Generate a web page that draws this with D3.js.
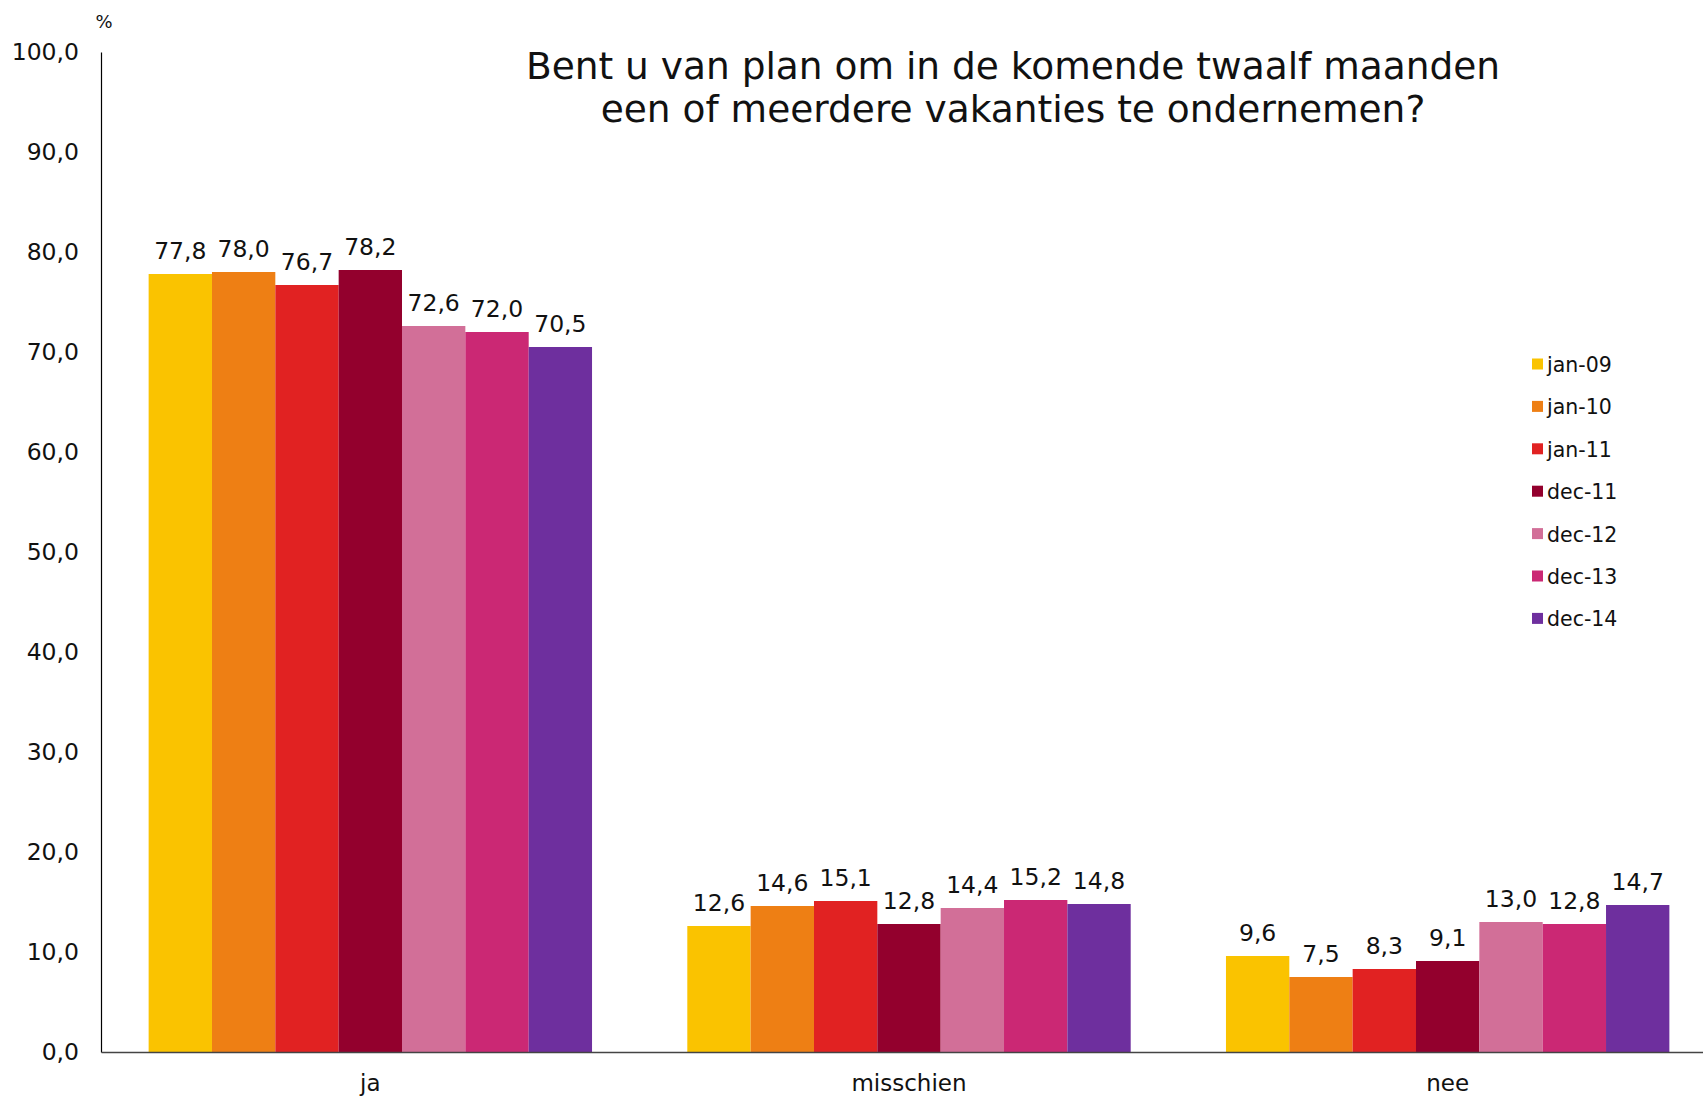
<!DOCTYPE html>
<html>
<head>
<meta charset="utf-8">
<script src="https://cdn.jsdelivr.net/npm/d3@7"></script>
<style>
  body { margin: 0; background: #fff; }
  svg { display: block; font-family: "DejaVu Sans", Verdana, sans-serif; }
</style>
</head>
<body>
<svg width="1703" height="1098"></svg>
<script>
// answers on the x axis
var categories = ['ja', 'misschien', 'nee'];

// survey moments (legend)
var series = ['jan-09', 'jan-10', 'jan-11', 'dec-11', 'dec-12', 'dec-13', 'dec-14'];

// percentages per survey moment, in order of categories
var jan09 = [77.8, 12.6, 9.6];
var jan10 = [78.0, 14.6, 7.5];
var jan11 = [76.7, 15.1, 8.3];
var dec11 = [78.2, 12.8, 9.1];
var dec12 = [72.6, 14.4, 13.0];
var dec13 = [72.0, 15.2, 12.8];
var dec14 = [70.5, 14.8, 14.7];

var yTicks = [0, 10, 20, 30, 40, 50, 60, 70, 80, 90, 100];

var colors = ['#fac300', '#ee7f14', '#e12222', '#93002d', '#d26f98', '#cb2874', '#6e2f9e'];

var values = [jan09, jan10, jan11, dec11, dec12, dec13, dec14];

var data = [];
categories.forEach(function(c, ci) {
  series.forEach(function(s, si) {
    data.push({ cat: c, serie: s, value: values[si][ci] });
  });
});

var svg = d3.select('svg');

var nl = d3.formatLocale({ decimal: ',', thousands: '.', grouping: [3], currency: ['€', ''] });
var fmt = nl.format('.1f');

var x0 = d3.scaleBand()
  .domain(categories)
  .range([101, 1717]);

var x1 = d3.scaleBand()
  .domain(series)
  .range([0, x0.bandwidth()])
  .paddingInner(0)
  .paddingOuter(0.752);

var y = d3.scaleLinear()
  .domain([0, 100])
  .range([1052, 52]);

var color = d3.scaleOrdinal()
  .domain(series)
  .range(colors);

// bars
svg.append('g').selectAll('rect')
  .data(data)
  .enter().append('rect')
  .attr('x', function(d) { return x0(d.cat) + x1(d.serie); })
  .attr('y', function(d) { return y(d.value); })
  .attr('width', x1.bandwidth())
  .attr('height', function(d) { return y(0) - y(d.value); })
  .attr('fill', function(d) { return color(d.serie); });

// value labels
svg.append('g').selectAll('text')
  .data(data)
  .enter().append('text')
  .attr('x', function(d) { return x0(d.cat) + x1(d.serie) + x1.bandwidth() / 2; })
  .attr('y', function(d) { return y(d.value) - 15; })
  .attr('text-anchor', 'middle')
  .attr('font-size', 23.5)
  .attr('fill', '#111')
  .text(function(d) { return fmt(d.value); });

// y axis
var yAxis = svg.append('g')
  .attr('transform', 'translate(101,0)')
  .call(d3.axisLeft(y).tickValues(yTicks).tickFormat(fmt).tickSize(0).tickPadding(22));
yAxis.select('.domain').attr('stroke', '#000').attr('stroke-width', 1.2);
yAxis.selectAll('text')
  .attr('font-size', 23.5)
  .attr('font-family', '"DejaVu Sans", Verdana, sans-serif')
  .attr('fill', '#111');

// x axis
var xAxis = svg.append('g')
  .attr('transform', 'translate(0,1052)')
  .call(d3.axisBottom(x0).tickSize(0).tickPadding(23));
xAxis.select('.domain').attr('stroke', '#444').attr('stroke-width', 1.5);
xAxis.selectAll('text')
  .attr('font-size', 23)
  .attr('font-family', '"DejaVu Sans", Verdana, sans-serif')
  .attr('fill', '#111');

// unit
svg.append('text')
  .attr('x', 104)
  .attr('y', 28)
  .attr('text-anchor', 'middle')
  .attr('font-size', 18)
  .attr('fill', '#111')
  .text('%');

// title
var title = svg.append('text')
  .attr('x', 1013)
  .attr('text-anchor', 'middle')
  .attr('font-size', 37.5)
  .attr('fill', '#111');
title.append('tspan').attr('x', 1013).attr('y', 79)
  .text('Bent u van plan om in de komende twaalf maanden');
title.append('tspan').attr('x', 1013).attr('y', 122)
  .text('een of meerdere vakanties te ondernemen?');

// legend
var legend = svg.append('g').selectAll('g')
  .data(series)
  .enter().append('g')
  .attr('transform', function(d, i) { return 'translate(1532,' + (364 + i * 42.4) + ')'; });

legend.append('rect')
  .attr('x', 0)
  .attr('y', -5.5)
  .attr('width', 11)
  .attr('height', 11)
  .attr('fill', function(d) { return color(d); });

legend.append('text')
  .attr('x', 15)
  .attr('y', 8)
  .attr('font-size', 20.5)
  .attr('fill', '#111')
  .text(function(d) { return d; });
</script>
</body>
</html>
